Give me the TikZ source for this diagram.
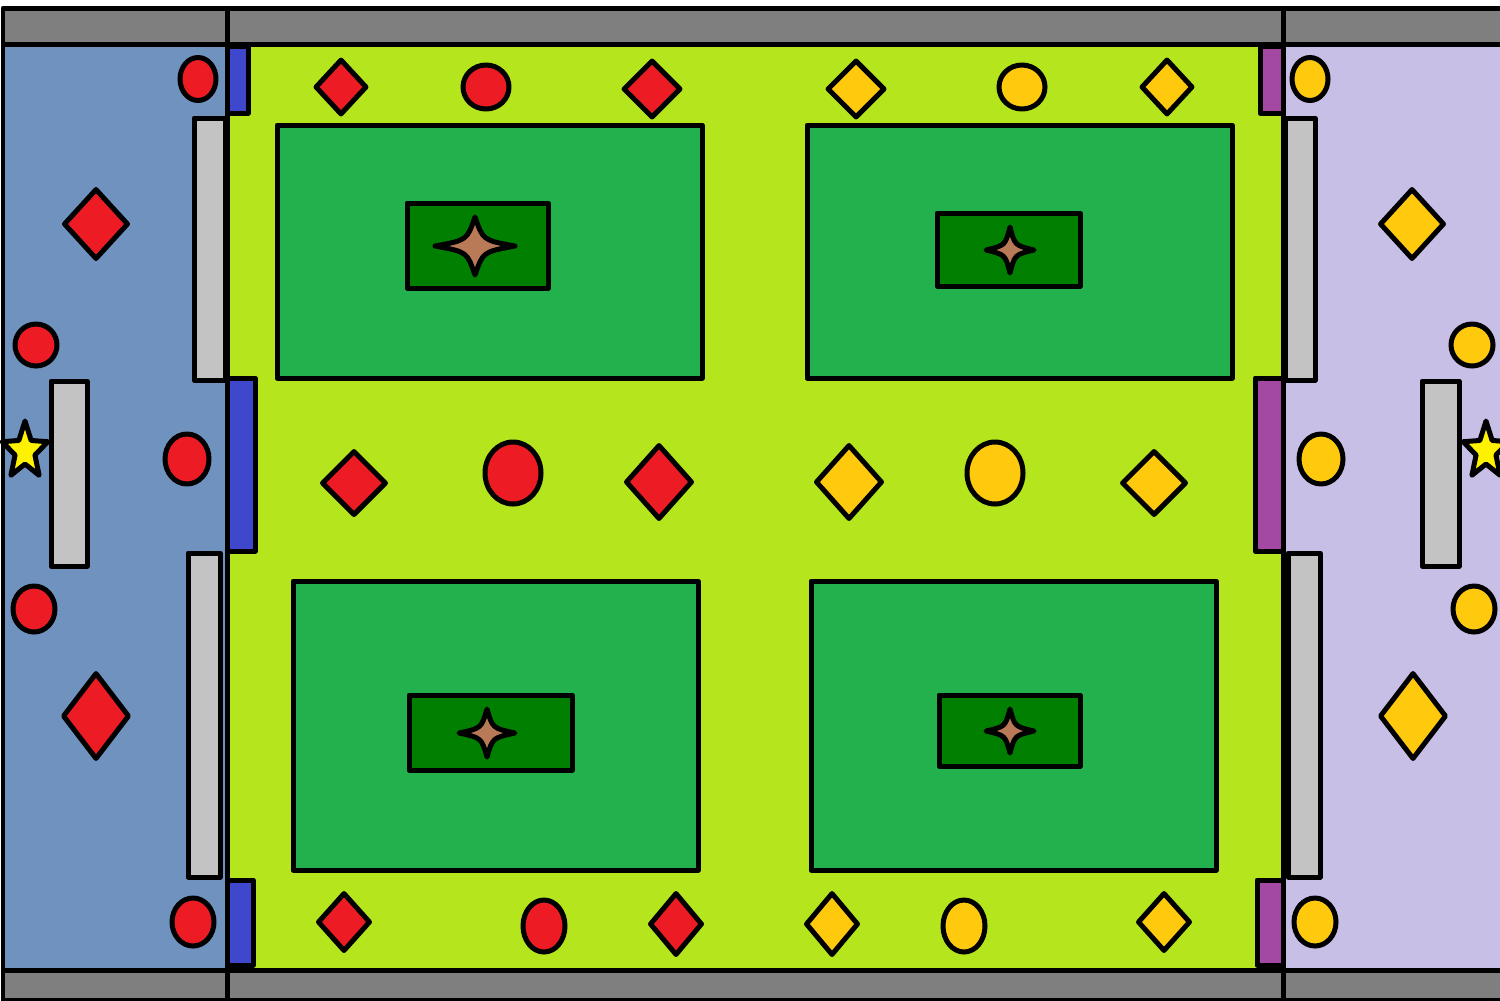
\documentclass[tikz,border=0pt]{standalone}
\usepackage{tikz}
\usetikzlibrary{shapes.geometric}

\definecolor{wallgray}{RGB}{127,127,127}
\definecolor{redbase}{RGB}{112,146,190}
\definecolor{yellowbase}{RGB}{200,191,231}
\definecolor{fieldlime}{RGB}{181,230,29}
\definecolor{fieldgreen}{RGB}{34,177,76}
\definecolor{pitgreen}{RGB}{0,127,0}
\definecolor{sparklebrown}{RGB}{185,122,87}
\definecolor{tokenred}{RGB}{237,28,36}
\definecolor{tokenyellow}{RGB}{255,201,14}
\definecolor{gateblue}{RGB}{63,72,204}
\definecolor{gatepurple}{RGB}{163,73,164}
\definecolor{barrier}{RGB}{195,195,195}
\definecolor{staryellow}{RGB}{255,242,0}

% four pointed sparkle: centre x, centre y, half width, half height
\newcommand{\sparkle}[4]{%
    \draw[sparkle_shape] (#1+#3,#2) .. controls (#1+0.2*#3,#2+0.2*#4) .. (#1,#2+#4)
        .. controls (#1-0.2*#3,#2+0.2*#4) .. (#1-#3,#2)
        .. controls (#1-0.2*#3,#2-0.2*#4) .. (#1,#2-#4)
        .. controls (#1+0.2*#3,#2-0.2*#4) .. cycle ;}

\begin{document}
\begin{tikzpicture}
    [
        x=0.1mm, y=-0.1mm, line width=0.5mm, line join=round,
        zone/.style={draw=black, line width=0.5mm},
        sparkle_shape/.style={draw=black, fill=sparklebrown, line width=0.5mm},
        red_disc/.style={ellipse, draw=black, fill=tokenred, line width=0.5mm, inner sep=0mm},
        yellow_disc/.style={ellipse, draw=black, fill=tokenyellow, line width=0.5mm, inner sep=0mm},
        red_gem/.style={diamond, draw=black, fill=tokenred, line width=0.5mm, inner sep=0mm},
        yellow_gem/.style={diamond, draw=black, fill=tokenyellow, line width=0.5mm, inner sep=0mm},
        base_star/.style={star, star points=5, star point ratio=2.3, draw=black, fill=staryellow, line width=0.5mm, inner sep=0mm, minimum size=6mm, xscale=0.8, transform shape},
    ]
    \useasboundingbox (0,0) rectangle (1500,1000) ;

    % walls
    \draw[zone, fill=wallgray] (3,8) rectangle (227,44) ;
    \draw[zone, fill=wallgray] (227,8) rectangle (1283,44) ;
    \draw[zone, fill=wallgray] (1283,8) rectangle (1510,44) ;
    \draw[zone, fill=wallgray] (3,970) rectangle (227,1000) ;
    \draw[zone, fill=wallgray] (227,970) rectangle (1283,1000) ;
    \draw[zone, fill=wallgray] (1283,970) rectangle (1510,1000) ;

    % bases and field
    \draw[zone, fill=redbase] (3,44) rectangle (227,970) ;
    \draw[zone, fill=fieldlime] (227,44) rectangle (1283,970) ;
    \draw[zone, fill=yellowbase] (1283,44) rectangle (1510,970) ;

    % gates
    \draw[zone, fill=gateblue] (227,46) rectangle (248,113) ;
    \draw[zone, fill=gateblue] (227,378) rectangle (255,551) ;
    \draw[zone, fill=gateblue] (227,880) rectangle (253,965) ;
    \draw[zone, fill=gatepurple] (1260,46) rectangle (1283,113) ;
    \draw[zone, fill=gatepurple] (1255,378) rectangle (1283,551) ;
    \draw[zone, fill=gatepurple] (1257,880) rectangle (1283,965) ;

    % barriers
    \draw[zone, fill=barrier] (194,118) rectangle (225,380) ;
    \draw[zone, fill=barrier] (188,553) rectangle (220,877) ;
    \draw[zone, fill=barrier] (51,381) rectangle (87,566) ;
    \draw[zone, fill=barrier] (1285,118) rectangle (1315,380) ;
    \draw[zone, fill=barrier] (1288,553) rectangle (1320,877) ;
    \draw[zone, fill=barrier] (1422,381) rectangle (1459,566) ;

    % quarters with pits
    \draw[zone, fill=fieldgreen] (277,125) rectangle (702,378) ;
    \draw[zone, fill=fieldgreen] (807,125) rectangle (1232,378) ;
    \draw[zone, fill=fieldgreen] (293,581) rectangle (698,870) ;
    \draw[zone, fill=fieldgreen] (811,581) rectangle (1216,870) ;
    \draw[zone, fill=pitgreen] (407,203) rectangle (548,288) ;
    \draw[zone, fill=pitgreen] (937,213) rectangle (1080,286) ;
    \draw[zone, fill=pitgreen] (409,695) rectangle (572,770) ;
    \draw[zone, fill=pitgreen] (939,695) rectangle (1080,766) ;
    \sparkle{475}{246}{40}{29}
    \sparkle{1010}{250}{24}{23}
    \sparkle{487}{733}{28}{24}
    \sparkle{1010}{731}{24}{22}

    % base stars
    \node[base_star] (starL) at (25,451) {} ;
    \node[base_star] (starR) at (1486,451) {} ;

    % red base tokens
    \node[red_disc, minimum width=3.6mm, minimum height=4.3mm] (rb1) at (198,79) {} ;
    \node[red_gem, minimum width=6.5mm, minimum height=7.1mm] (rb2) at (96,224) {} ;
    \node[red_disc, minimum width=4.2mm, minimum height=4.2mm] (rb3) at (36,345) {} ;
    \node[red_disc, minimum width=4.4mm, minimum height=5.0mm] (rb4) at (187,459) {} ;
    \node[red_disc, minimum width=4.2mm, minimum height=4.6mm] (rb5) at (34,609) {} ;
    \node[red_gem, minimum width=6.7mm, minimum height=8.7mm] (rb6) at (96,716) {} ;
    \node[red_disc, minimum width=4.2mm, minimum height=4.8mm] (rb7) at (193,922) {} ;

    % yellow base tokens
    \node[yellow_disc, minimum width=3.6mm, minimum height=4.3mm] (yb1) at (1310,79) {} ;
    \node[yellow_gem, minimum width=6.5mm, minimum height=7.1mm] (yb2) at (1412,224) {} ;
    \node[yellow_disc, minimum width=4.2mm, minimum height=4.2mm] (yb3) at (1472,345) {} ;
    \node[yellow_disc, minimum width=4.4mm, minimum height=5.0mm] (yb4) at (1321,459) {} ;
    \node[yellow_disc, minimum width=4.2mm, minimum height=4.6mm] (yb5) at (1474,609) {} ;
    \node[yellow_gem, minimum width=6.7mm, minimum height=8.7mm] (yb6) at (1413,716) {} ;
    \node[yellow_disc, minimum width=4.2mm, minimum height=4.8mm] (yb7) at (1315,922) {} ;

    % field tokens, top row
    \node[red_gem, minimum width=5.2mm, minimum height=5.6mm] (rt1) at (341,87) {} ;
    \node[red_disc, minimum width=4.6mm, minimum height=4.4mm] (rt2) at (486,87) {} ;
    \node[red_gem, minimum width=5.8mm, minimum height=5.8mm] (rt3) at (652,89) {} ;
    \node[yellow_gem, minimum width=5.8mm, minimum height=5.8mm] (yt3) at (856,89) {} ;
    \node[yellow_disc, minimum width=4.6mm, minimum height=4.4mm] (yt2) at (1022,87) {} ;
    \node[yellow_gem, minimum width=5.2mm, minimum height=5.6mm] (yt1) at (1167,87) {} ;

    % field tokens, middle row
    \node[red_gem, minimum width=6.5mm, minimum height=6.5mm] (rm1) at (354,483) {} ;
    \node[red_disc, minimum width=5.6mm, minimum height=6.2mm] (rm2) at (513,473) {} ;
    \node[red_gem, minimum width=6.7mm, minimum height=7.5mm] (rm3) at (659,482) {} ;
    \node[yellow_gem, minimum width=6.7mm, minimum height=7.5mm] (ym3) at (849,482) {} ;
    \node[yellow_disc, minimum width=5.6mm, minimum height=6.2mm] (ym2) at (995,473) {} ;
    \node[yellow_gem, minimum width=6.5mm, minimum height=6.5mm] (ym1) at (1154,483) {} ;

    % field tokens, bottom row
    \node[red_gem, minimum width=5.3mm, minimum height=5.9mm] (rl1) at (344,922) {} ;
    \node[red_disc, minimum width=4.2mm, minimum height=5.2mm] (rl2) at (544,926) {} ;
    \node[red_gem, minimum width=5.3mm, minimum height=6.3mm] (rl3) at (676,924) {} ;
    \node[yellow_gem, minimum width=5.3mm, minimum height=6.3mm] (yl3) at (832,924) {} ;
    \node[yellow_disc, minimum width=4.2mm, minimum height=5.2mm] (yl2) at (964,926) {} ;
    \node[yellow_gem, minimum width=5.3mm, minimum height=5.9mm] (yl1) at (1164,922) {} ;
\end{tikzpicture}
\end{document}
